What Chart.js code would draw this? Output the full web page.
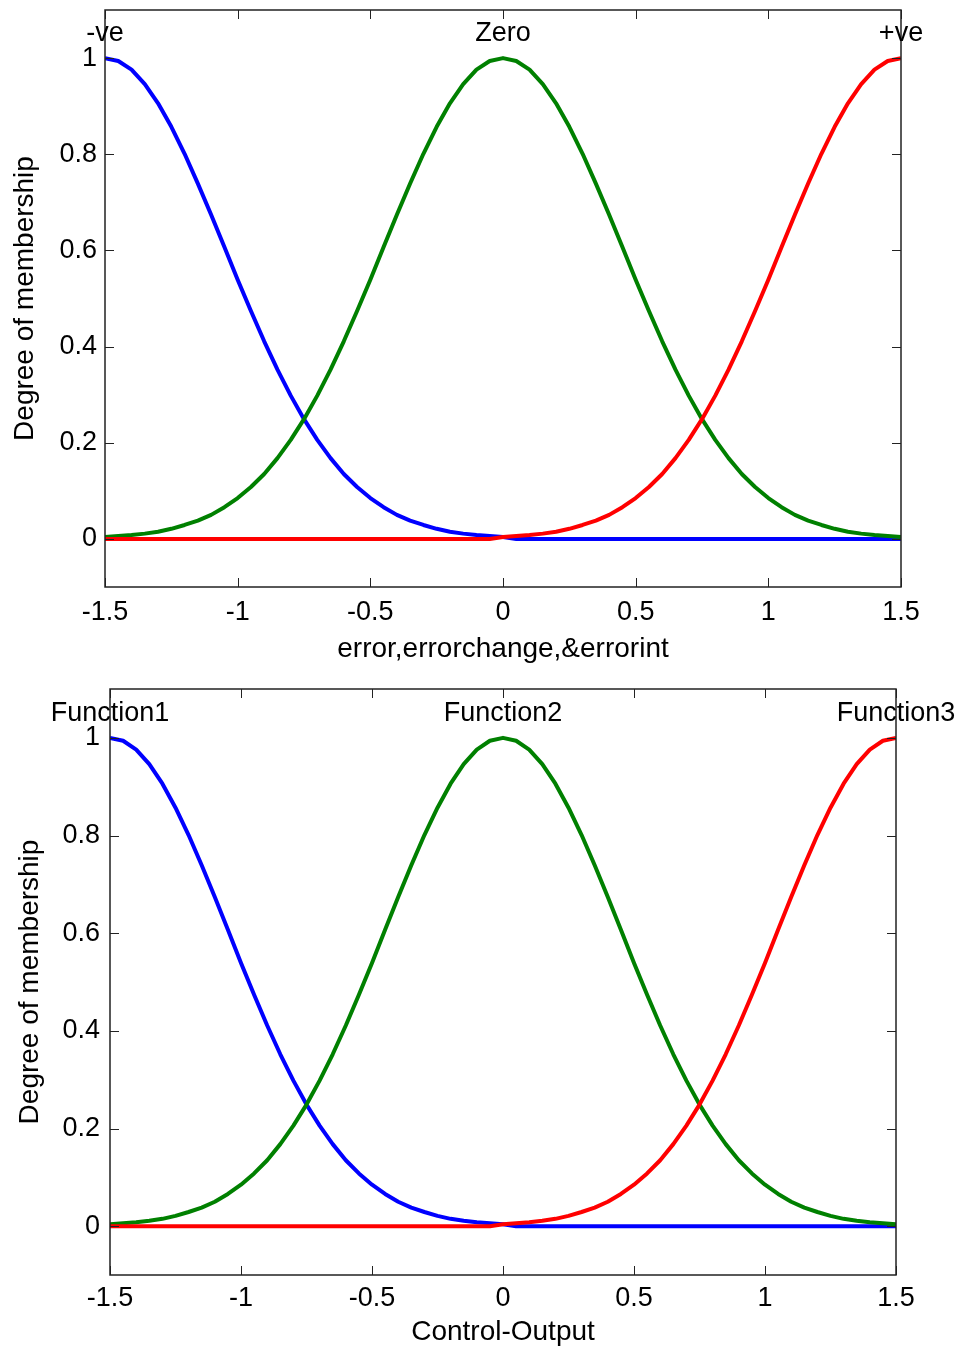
<!DOCTYPE html>
<html>
<head>
<meta charset="utf-8">
<script src="https://cdn.jsdelivr.net/npm/chart.js@4.4.0/dist/chart.umd.min.js"></script>
<style>
  body { margin:0; background:#fff; width:960px; height:1349px; overflow:hidden; position:relative; }
  canvas { position:absolute; left:0; }
</style>
</head>
<body>
<canvas id="topChart" width="960" height="670" style="top:0px"></canvas>
<canvas id="bottomChart" width="960" height="679" style="top:670px"></canvas>
<script>
// x positions (input universe)
var xs = [-1.5,-1.45,-1.4,-1.35,-1.3,-1.25,-1.2,-1.15,-1.1,-1.05,-1,-0.95,-0.9,-0.85,-0.8,-0.75,-0.7,-0.65,-0.6,-0.55,-0.5,-0.45,-0.4,-0.35,-0.3,-0.25,-0.2,-0.15,-0.1,-0.05,
          0,0.05,0.1,0.15,0.2,0.25,0.3,0.35,0.4,0.45,0.5,0.55,0.6,0.65,0.7,0.75,0.8,0.85,0.9,0.95,1,1.05,1.1,1.15,1.2,1.25,1.3,1.35,1.4,1.45,1.5];

// membership values
var negValues = [1.000,0.994,0.976,0.946,0.906,0.857,0.801,0.739,0.674,0.607,0.539,0.474,0.411,0.352,0.298,0.249,0.206,0.168,0.135,0.108,0.085,0.066,0.050,0.038,0.029,0.021,0.015,0.011,0.008,0.006,
                 0.004,0,0,0,0,0,0,0,0,0,0,0,0,0,0,0,0,0,0,0,0,0,0,0,0,0,0,0,0,0,0];
var zeroValues = [0.004,0.006,0.008,0.011,0.015,0.021,0.029,0.038,0.050,0.066,0.085,0.108,0.135,0.168,0.206,0.249,0.298,0.352,0.411,0.474,0.539,0.607,0.674,0.739,0.801,0.857,0.906,0.946,0.976,0.994,
                  1.000,0.994,0.976,0.946,0.906,0.857,0.801,0.739,0.674,0.607,0.539,0.474,0.411,0.352,0.298,0.249,0.206,0.168,0.135,0.108,0.085,0.066,0.050,0.038,0.029,0.021,0.015,0.011,0.008,0.006,0.004];
var posValues = [0,0,0,0,0,0,0,0,0,0,0,0,0,0,0,0,0,0,0,0,0,0,0,0,0,0,0,0,0,0,
                 0.004,0.006,0.008,0.011,0.015,0.021,0.029,0.038,0.050,0.066,0.085,0.108,0.135,0.168,0.206,0.249,0.298,0.352,0.411,0.474,0.539,0.607,0.674,0.739,0.801,0.857,0.906,0.946,0.976,0.994,1.000];

var xTicks = [-1.5,-1,-0.5,0,0.5,1,1.5];
var xTickLabels = ['-1.5','-1','-0.5','0','0.5','1','1.5'];
var yTicks = [0,0.2,0.4,0.6,0.8,1];
var yTickLabels = ['0','0.2','0.4','0.6','0.8','1'];

var topNames = ['-ve','Zero','+ve'];
var bottomNames = ['Function1','Function2','Function3'];
var nameX = [-1.5,0,1.5];
var nameY = 1.05;

var FONT = '"Liberation Sans", Arial, sans-serif';

function pts(vals){
  return xs.map(function(x,i){ return {x:x, y:vals[i]}; });
}

// box, inward ticks on all sides and the set names
var framePlugin = {
  id: 'frame',
  afterDatasetsDraw: function(chart, args, opts){
    var ctx = chart.ctx, a = chart.chartArea;
    var sx = chart.scales.x, sy = chart.scales.y;
    ctx.save();
    ctx.strokeStyle = '#222';
    ctx.lineWidth = 1;
    ctx.beginPath();
    xTicks.forEach(function(v){
      var p = Math.round(sx.getPixelForValue(v)) + 0.5;
      ctx.moveTo(p, a.bottom); ctx.lineTo(p, a.bottom - 9);
      ctx.moveTo(p, a.top); ctx.lineTo(p, a.top + 9);
    });
    yTicks.forEach(function(v){
      var p = Math.round(sy.getPixelForValue(v)) + 0.5;
      ctx.moveTo(a.left, p); ctx.lineTo(a.left + 9, p);
      ctx.moveTo(a.right, p); ctx.lineTo(a.right - 9, p);
    });
    ctx.stroke();
    ctx.lineWidth = 1.5;
    ctx.strokeRect(a.left, a.top, a.right - a.left, a.bottom - a.top);

    ctx.fillStyle = '#000';
    ctx.font = '27px ' + FONT;
    ctx.textAlign = 'center';
    ctx.textBaseline = 'middle';
    opts.names.forEach(function(t, i){
      ctx.fillText(t, sx.getPixelForValue(nameX[i]), sy.getPixelForValue(nameY));
    });
    ctx.restore();
  }
};

function BuildChart(id, names, xTitle, lay){
  var ctx = document.getElementById(id).getContext('2d');
  return new Chart(ctx, {
    type: 'line',
    data: {
      datasets: [
        { label:'neg', data: pts(negValues), borderColor:'#0000ff', order:2 },
        { label:'zero', data: pts(zeroValues), borderColor:'#008000', order:1 },
        { label:'pos', data: pts(posValues), borderColor:'#ff0000', order:0 }
      ]
    },
    options: {
      responsive: false,
      animation: false,
      devicePixelRatio: 1,
      layout: { padding: { left:0, right: lay.right, top: lay.top, bottom:0 } },
      elements: {
        line: { borderWidth: 4, tension: 0, fill: false, borderJoinStyle:'round' },
        point: { radius: 0 }
      },
      plugins: {
        legend: { display:false },
        tooltip: { enabled:false },
        frame: { names: names }
      },
      scales: {
        x: {
          type: 'linear', min: -1.5, max: 1.5,
          grid: { display:false, drawTicks:false },
          border: { display:false },
          afterBuildTicks: function(s){ s.ticks = xTicks.map(function(v){ return {value:v}; }); },
          afterFit: function(s){ s.height = lay.xh; s.paddingLeft = 0; s.paddingRight = 0; },
          ticks: {
            padding: lay.xpad, color:'#000', font:{ family:FONT, size:27 },
            maxRotation:0, autoSkip:false,
            callback: function(v, i){ return xTickLabels[i]; }
          },
          title: { display:true, text:xTitle, color:'#000', font:{ family:FONT, size:28 }, padding:{ top:0, bottom: lay.xtp } }
        },
        y: {
          type: 'linear', min: -0.1, max: 1.1,
          grid: { display:false, drawTicks:false },
          border: { display:false },
          afterBuildTicks: function(s){ s.ticks = yTicks.map(function(v){ return {value:v}; }); },
          afterFit: function(s){ s.width = lay.left; s.paddingTop = 0; s.paddingBottom = 0; },
          ticks: {
            padding: lay.ypad, color:'#000', font:{ family:FONT, size:27 },
            autoSkip:false,
            callback: function(v, i){ return yTickLabels[i]; }
          },
          title: { display:true, text:'Degree of membership', color:'#000', font:{ family:FONT, size:28 }, padding:{ top: lay.ytp, bottom:0 } }
        }
      }
    },
    plugins: [framePlugin]
  });
}

BuildChart('topChart', topNames, 'error,errorchange,&errorint',
  { left:105, right:59, top:10, xh:83, xpad:9, xtp:4, ypad:8, ytp:8 });
BuildChart('bottomChart', bottomNames, 'Control-Output',
  { left:110, right:64, top:19, xh:74, xpad:7, xtp:0, ypad:10, ytp:13 });
</script>
</body>
</html>
